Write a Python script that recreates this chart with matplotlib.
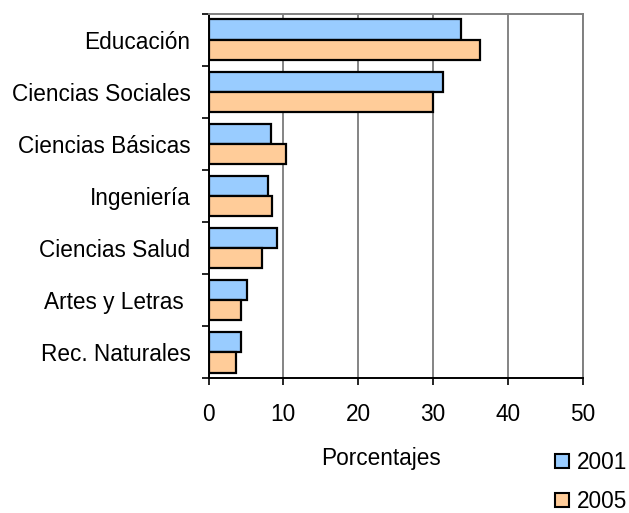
import numpy as np
import matplotlib.pyplot as plt
from matplotlib.patches import Patch

plt.rcParams['font.family'] = ['Liberation Sans', 'DejaVu Sans']

categorias = ["Educación", "Ciencias Sociales", "Ciencias Básicas", "Ingeniería",
              "Ciencias Salud", "Artes y Letras ", "Rec. Naturales"]
v2001 = [33.7, 31.4, 8.3, 8.0, 9.2, 5.1, 4.3]
v2005 = [36.3, 30.0, 10.3, 8.5, 7.1, 4.3, 3.7]
xticks = [0, 10, 20, 30, 40, 50]

c2001 = '#99CCFF'
c2005 = '#FFCC99'

fig = plt.figure(figsize=(6.29, 5.13), dpi=100)
ax = fig.add_axes([208.5 / 629, 1 - 378.3 / 513, (582.7 - 208.5) / 629, (378.3 - 13.7) / 513])

y = np.arange(len(categorias))
h = 0.39
ax.barh(y - h / 2, v2001, height=h, color=c2001, edgecolor='black', linewidth=1.6, zorder=3)
ax.barh(y + h / 2, v2005, height=h, color=c2005, edgecolor='black', linewidth=1.6, zorder=3)

ax.set_xlim(0, 50)
ax.set_ylim(len(categorias) - 0.5, -0.5)
ax.set_xticks(xticks)
ax.set_xticklabels([str(t) for t in xticks], fontsize=16.3)
ax.set_yticks(y)
ax.set_yticklabels(categorias, fontsize=16.3)
ax.set_yticks(np.arange(len(categorias) + 1) - 0.5, minor=True)
ax.tick_params(axis='y', which='major', length=0, pad=13)
ax.tick_params(axis='y', which='minor', length=5, width=1.2, direction='out')
ax.tick_params(axis='x', length=5, width=1.2, direction='out', pad=13)

ax.grid(axis='x', color='#707070', linewidth=1.2, zorder=0)
ax.spines['left'].set_color('black')
ax.spines['bottom'].set_color('black')
ax.spines['left'].set_linewidth(1.4)
ax.spines['bottom'].set_linewidth(1.4)
ax.spines['top'].set_color('#808080')
ax.spines['right'].set_color('#808080')
ax.spines['top'].set_linewidth(1.4)
ax.spines['right'].set_linewidth(1.4)

fig.text(381 / 629, 1 - 459 / 513, "Porcentajes", fontsize=16.3, ha='center', va='center')

handles = [Patch(facecolor=c2001, edgecolor='black', linewidth=1.5, label='2001'),
           Patch(facecolor=c2005, edgecolor='black', linewidth=1.5, label='2005')]
fig.legend(handles=handles, loc='upper left', bbox_to_anchor=(555 / 629, 1 - 451 / 513),
           frameon=False, fontsize=16.3, handlelength=0.6, handleheight=0.6,
           handletextpad=0.35, labelspacing=0.7, borderpad=0, borderaxespad=0)

fig.savefig('out.png', dpi=100)
